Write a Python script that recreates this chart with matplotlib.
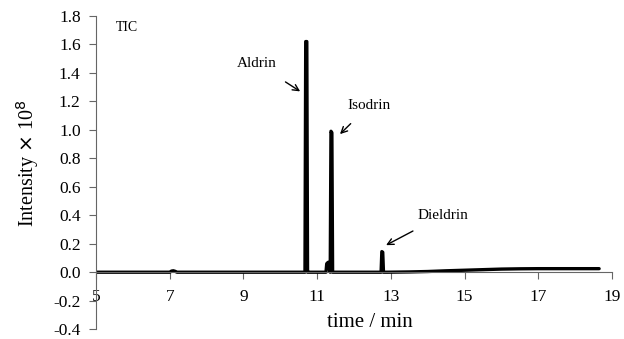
import numpy as np
import matplotlib.pyplot as plt

plt.rcParams['font.family'] = ['Liberation Serif', 'DejaVu Serif']

# chromatogram (TIC)
time = [5.0, 6.0, 7.0, 7.05, 7.1, 7.15, 7.2, 8.0, 9.0, 10.0, 10.6, 10.67,
        10.69, 10.72, 10.74, 10.8, 11.0, 11.24, 11.26, 11.3, 11.33, 11.355,
        11.375, 11.40, 11.42, 11.6, 12.0, 12.5, 12.735, 12.755, 12.78, 12.80,
        12.9, 13.5, 14.0, 14.5, 15.0, 15.5, 16.0, 16.5, 17.0, 17.5, 18.0, 18.65]
intensity = [0.0, 0.0, 0.0, 0.008, 0.01, 0.006, 0.0, 0.0, 0.0, 0.0, 0.0, 0.0,
             1.62, 1.62, 0.0, 0.0, 0.0, 0.0, 0.06, 0.07, 0.02, 0.0,
             0.99, 0.98, 0.0, 0.0, 0.0, 0.0, 0.0, 0.145, 0.14, 0.0,
             0.0, 0.002, 0.005, 0.01, 0.014, 0.018, 0.022, 0.024, 0.025, 0.025, 0.025, 0.025]

xticks = [5, 7, 9, 11, 13, 15, 17, 19]
yticks = [-0.4, -0.2, 0.0, 0.2, 0.4, 0.6, 0.8, 1.0, 1.2, 1.4, 1.6, 1.8]

fig = plt.figure(figsize=(6.24, 3.39), dpi=100)
ax = fig.add_axes([0.1538, 0.029, 0.8270, 0.924])
ax.plot(time, intensity, color='black', lw=2.4,
        solid_joinstyle='round', solid_capstyle='round')

ax.set_xlim(5, 19)
ax.set_ylim(-0.4, 1.8)
ax.spines['top'].set_visible(False)
ax.spines['right'].set_visible(False)
ax.spines['bottom'].set_position(('data', 0))
ax.spines['left'].set_color('#666666')
ax.spines['bottom'].set_color('#666666')
ax.set_xticks(xticks)
ax.set_xticklabels([str(t) for t in xticks])
ax.set_yticks(yticks)
ax.set_yticklabels(['%.1f' % t for t in yticks])
ax.tick_params(axis='both', labelsize=12.5, color='#666666', length=5, direction='out')
ax.tick_params(axis='y', pad=6)
ax.tick_params(axis='x', pad=7)

ax.set_ylabel(r'Intensity $\times$ 10$^{8}$', fontsize=14.5)
ax.yaxis.set_label_coords(-0.106, 0.53)
ax.text(12.43, -0.35, 'time / min', fontsize=15, ha='center', va='center')

ax.text(5.85, 1.72, 'TIC', fontsize=10, ha='center', va='center')

arrow = dict(arrowstyle='->', color='black', lw=1)
ax.annotate('Aldrin', xy=(10.54, 1.27), xytext=(9.37, 1.465), fontsize=11,
            ha='center', va='center', arrowprops=dict(arrow, shrinkA=12, shrinkB=0))
ax.annotate('Isodrin', xy=(11.62, 0.97), xytext=(12.41, 1.17), fontsize=11,
            ha='center', va='center', arrowprops=dict(arrow, shrinkA=9, shrinkB=0))
ax.annotate('Dieldrin', xy=(12.87, 0.19), xytext=(14.41, 0.40), fontsize=11,
            ha='center', va='center', arrowprops=dict(arrow, shrinkA=10, shrinkB=0))

fig.savefig('out.png', dpi=100)
